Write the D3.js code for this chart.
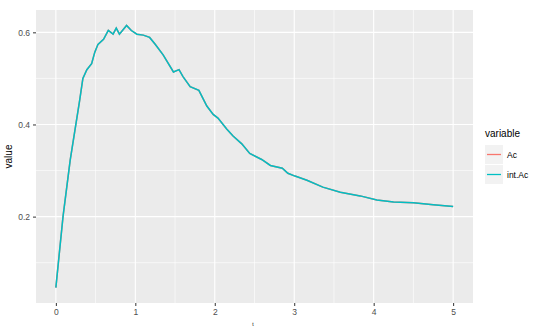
<!DOCTYPE html>
<html><head><meta charset="utf-8">
<script src="https://cdn.jsdelivr.net/npm/d3@7"></script>
<style>body{margin:0;background:#fff}svg{display:block}text{font-family:"Liberation Sans",Arial,sans-serif}</style>
</head><body>
<svg id="c" width="536" height="327"></svg>
<script>
const tValues = [0,0.09,0.18,0.30,0.34,0.39,0.45,0.49,0.53,0.60,0.66,0.72,0.76,0.80,0.89,0.95,1.02,1.10,1.18,1.25,1.35,1.48,1.55,1.60,1.69,1.80,1.90,1.98,2.04,2.15,2.23,2.34,2.44,2.59,2.70,2.85,2.92,3.01,3.16,3.36,3.58,3.83,4.04,4.25,4.50,4.75,5.00];
const intAcValues = [0.046,0.200,0.322,0.453,0.500,0.519,0.532,0.557,0.574,0.585,0.604,0.596,0.609,0.596,0.615,0.604,0.596,0.594,0.589,0.574,0.551,0.514,0.519,0.504,0.482,0.474,0.440,0.422,0.414,0.390,0.375,0.358,0.337,0.324,0.311,0.305,0.294,0.288,0.279,0.264,0.253,0.245,0.236,0.232,0.230,0.226,0.222];
const acValues = intAcValues.slice();
const seriesNames = ["Ac","int.Ac"];
const seriesColors = ["#F8766D","#00BFC4"];
const xTicks = [0,1,2,3,4,5];
const yTicks = [0.2,0.4,0.6];
const xMinor = [0.5,1.5,2.5,3.5,4.5];
const yMinor = [0.1,0.3,0.5];

const svg = d3.select("#c");
const pl = 36, pr = 473, pt = 10, pb = 303;
const x = d3.scaleLinear().domain([-0.25,5.25]).range([pl,pr]);
const y = d3.scaleLinear().domain([0.0125,0.6485]).range([pb,pt]);

svg.append("rect").attr("x",pl).attr("y",pt).attr("width",pr-pl).attr("height",pb-pt).attr("fill","#EBEBEB");
const g = svg.append("g");
yMinor.forEach(v=>g.append("line").attr("x1",pl).attr("x2",pr).attr("y1",y(v)).attr("y2",y(v)).attr("stroke","#fff").attr("stroke-width",0.6));
xMinor.forEach(v=>g.append("line").attr("y1",pt).attr("y2",pb).attr("x1",x(v)).attr("x2",x(v)).attr("stroke","#fff").attr("stroke-width",0.6));
yTicks.forEach(v=>g.append("line").attr("x1",pl).attr("x2",pr).attr("y1",y(v)).attr("y2",y(v)).attr("stroke","#fff").attr("stroke-width",1.1));
xTicks.forEach(v=>g.append("line").attr("y1",pt).attr("y2",pb).attr("x1",x(v)).attr("x2",x(v)).attr("stroke","#fff").attr("stroke-width",1.1));

const xa = svg.append("g").attr("transform",`translate(0,${pb})`).call(d3.axisBottom(x).tickValues(xTicks).tickSize(3).tickPadding(3).tickFormat(d3.format("d")));
const ya = svg.append("g").attr("transform",`translate(${pl},0)`).call(d3.axisLeft(y).tickValues(yTicks).tickSize(3).tickPadding(3).tickFormat(d3.format(".1f")));
[xa,ya].forEach(a=>{a.select(".domain").remove();a.selectAll("line").attr("stroke","#333");a.selectAll("text").attr("fill","#4D4D4D").style("font-size","8.5px");});

const line = d3.line().x((d,i)=>x(tValues[i])).y(d=>y(d));
svg.append("path").datum(acValues).attr("d",line).attr("fill","none").attr("stroke",seriesColors[0]).attr("stroke-width",1.5);
svg.append("path").datum(intAcValues).attr("d",line).attr("fill","none").attr("stroke",seriesColors[1]).attr("stroke-width",1.5);

svg.append("text").attr("transform",`translate(12,${(pt+pb)/2}) rotate(-90)`).attr("text-anchor","middle").style("font-size","10px").attr("fill","#000").text("value");
svg.append("text").attr("x",253).attr("y",326).attr("text-anchor","middle").style("font-size","5px").attr("fill","#000").text("t");

const lg = svg.append("g");
lg.append("text").attr("x",485).attr("y",137).style("font-size","10px").attr("fill","#000").text("variable");
seriesNames.forEach((n,i)=>{
  const ky = 145 + i*20;
  lg.append("rect").attr("x",485).attr("y",ky).attr("width",18).attr("height",19).attr("fill","#F2F2F2");
  lg.append("line").attr("x1",487).attr("x2",501).attr("y1",ky+9.5).attr("y2",ky+9.5).style("stroke",seriesColors[i]).attr("stroke-width",1.3);
  lg.append("text").attr("x",507).attr("y",ky+12.5).style("font-size","8.5px").attr("fill","#000").text(n);
});
</script>
</body></html>
